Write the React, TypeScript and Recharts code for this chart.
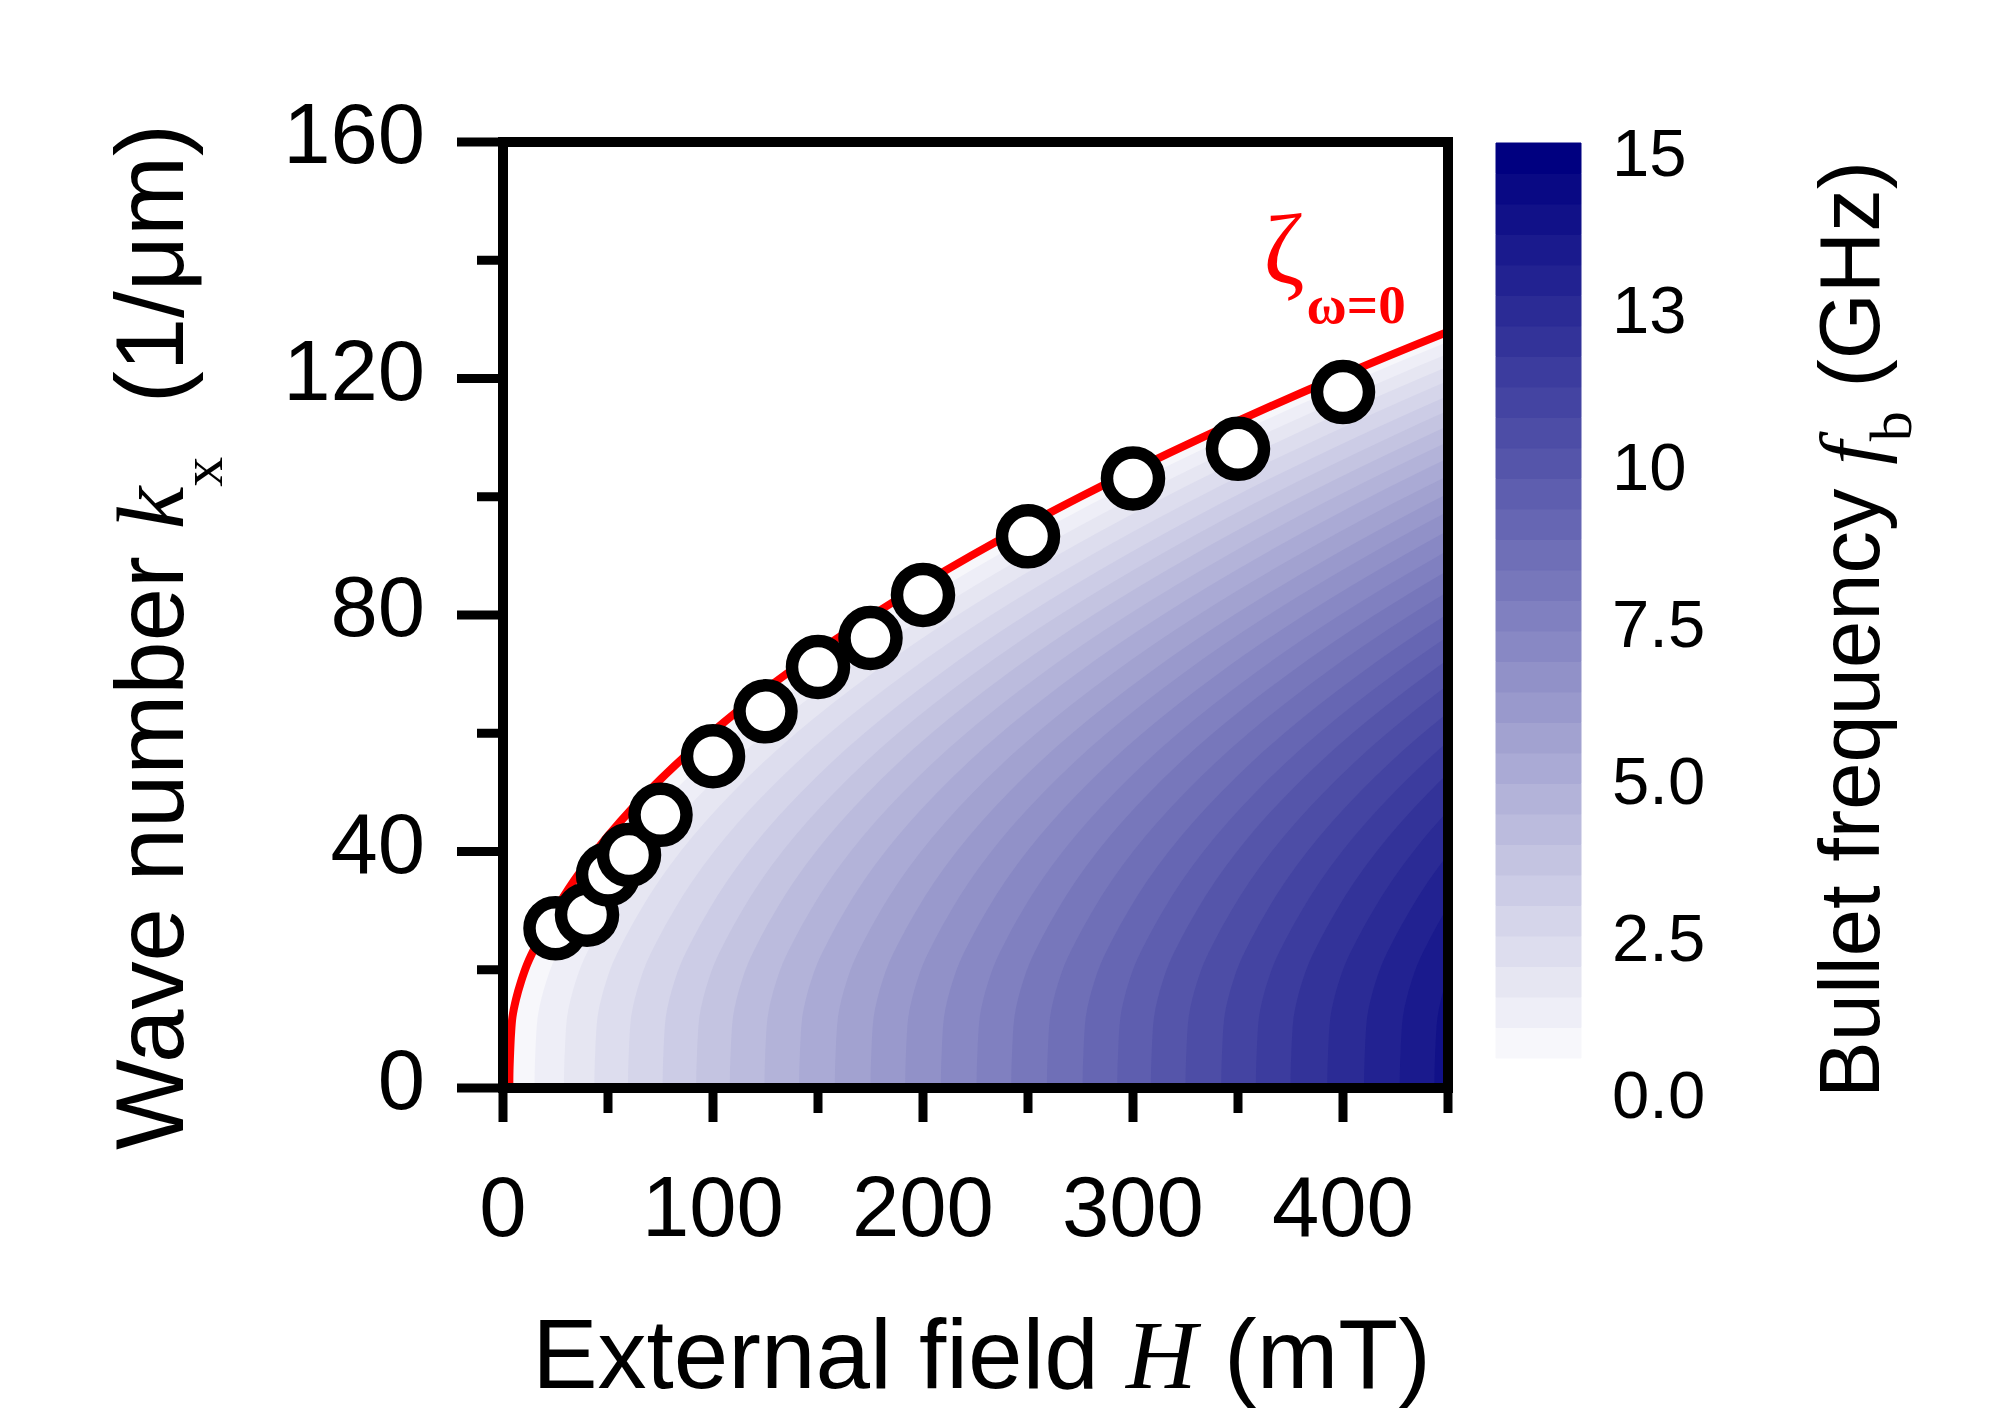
import {
  ComposedChart,
  BarChart,
  Area,
  Line,
  Bar,
  Scatter,
  XAxis,
  YAxis,
  ReferenceArea,
  ReferenceDot,
} from "recharts"

const W = 2008
const H = 1417
const SANS = '"Liberation Sans", Arial, sans-serif'
const SERIF = '"Liberation Serif", "Times New Roman", serif'

// measured points: field H (mT) and wave number k (1/um)
const pointH = [25, 40, 50, 60, 75, 100, 125, 150, 175, 200, 250, 300, 350, 400]
const pointK = [27.0, 29.3, 36.1, 39.4, 46.2, 56.1, 63.7, 71.2, 76.1, 83.4, 93.3, 103.1, 108.1, 117.7]

// zeta(omega=0) curve, read as field H at a given k
const zetaK = [0, 3, 6, 9, 12, 15, 18, 21, 25, 30, 35, 40, 50, 60, 70, 80, 90, 100, 110, 120, 130, 145, 160]
const zetaH = [3.0, 3.1, 3.4, 3.8, 4.5, 6.2, 8.6, 11.6, 17.0, 24.8, 33.7, 44.0, 68.8, 99.0, 134.8, 176.0, 222.8, 275.0, 332.8, 396.0, 464.8, 578.0, 704.0]

// contour boundaries every 0.5 GHz: distance in H from the zeta curve (read along k = 0)
const bandShift = [
  12, 26, 40.5, 56.5, 73, 89, 105, 121.5, 138, 155, 172, 188.5, 205.5, 222.5,
  239, 256, 273, 289.5, 305.5, 322, 339, 355.5, 372, 389.5, 407, 424, 440.5,
]

// colour bar levels (GHz)
const cbLevels = [
  0, 0.5, 1, 1.5, 2, 2.5, 3, 3.5, 4, 4.5, 5, 5.5, 6, 6.5, 7, 7.5, 8, 8.5, 9, 9.5,
  10, 10.5, 11, 11.5, 12, 12.5, 13, 13.5, 14, 14.5,
]
const cbMax = 15
const cbTicks = [0, 2.5, 5, 7.5, 10, 12.5, 15]

const xTicks = [0, 50, 100, 150, 200, 250, 300, 350, 400, 450]
const yTicks = [0, 20, 40, 60, 80, 100, 120, 140, 160]

const bandColor = (i: number) => {
  const t = (i + 1) / cbLevels.length
  const r = Math.round(255 - 255 * t)
  const b = Math.round(255 - 127 * t)
  return `rgb(${r},${r},${b})`
}

const points = pointH.map((h, i) => ({ H: h, k: pointK[i] }))

const contourRows = zetaK.map((k, i) => {
  const row: Record<string, number> = { k, zeta: zetaH[i], full: 1000 }
  bandShift.forEach((s, j) => {
    row[`b${j + 1}`] = zetaH[i] + s
  })
  return row
})

const cbRow: Record<string, number | string> = { name: "f" }
cbLevels.forEach((lv, i) => {
  const next = i + 1 < cbLevels.length ? cbLevels[i + 1] : cbMax
  cbRow[`s${i}`] = next - lv
})

const XTick = (props: any) => {
  const { x, y, payload } = props
  const v = payload.value
  const major = v % 100 === 0
  return (
    <g>
      <line x1={x} y1={y} x2={x} y2={y + (major ? 34 : 25)} stroke="#000" strokeWidth={9} />
      {major && (
        <text x={x} y={y + 148} textAnchor="middle" fontSize={85} fontFamily={SANS} fill="#000">
          {v}
        </text>
      )}
    </g>
  )
}

const YTick = (props: any) => {
  const { x, y, payload } = props
  const v = payload.value
  const major = v % 40 === 0
  return (
    <g>
      <line x1={x} y1={y} x2={x - (major ? 46 : 26)} y2={y} stroke="#000" strokeWidth={9} />
      {major && (
        <text x={x - 78} y={y + 21} textAnchor="end" fontSize={85} fontFamily={SANS} fill="#000">
          {v}
        </text>
      )}
    </g>
  )
}

const CbTick = (props: any) => {
  const { x, y, payload } = props
  const v = payload.value
  const label = v >= 10 ? String(Math.round(v)) : v.toFixed(1)
  const shift = 9 + 1.8 * (cbMax - v)
  return (
    <text x={x + 31} y={y + shift + 24} textAnchor="start" fontSize={67} fontFamily={SANS} fill="#000">
      {label}
    </text>
  )
}

const XTitle = (props: any) => {
  const { x, y, width } = props.viewBox
  return (
    <text x={x + width / 2 + 6} y={y + 300} textAnchor="middle" fontSize={98} fontFamily={SANS} fill="#000">
      External field <tspan fontFamily={SERIF} fontStyle="italic">H</tspan> (mT)
    </text>
  )
}

const YTitle = (props: any) => {
  const { x, y, height } = props.viewBox
  const bx = x - 220
  const cy = y + height / 2 + 22
  return (
    <text
      transform={`translate(${bx},${cy}) rotate(-90)`}
      textAnchor="middle"
      fontSize={96}
      fontFamily={SANS}
      fill="#000"
      style={{ whiteSpace: "pre" }}
    >
      {"Wave number "}
      <tspan fontFamily={SERIF} fontStyle="italic">k</tspan>
      <tspan fontFamily={SERIF} fontSize={60} dy={39}>x</tspan>
      <tspan dy={-39}>{"  (1/μm)"}</tspan>
    </text>
  )
}

const CbTitle = (props: any) => {
  const { x, y, height } = props.viewBox
  const bx = x + 298
  const cy = y + height / 2 + 29
  return (
    <text
      transform={`translate(${bx},${cy}) rotate(-90)`}
      textAnchor="middle"
      fontSize={85}
      fontFamily={SANS}
      fill="#000"
      style={{ whiteSpace: "pre" }}
    >
      {"Bullet frequency "}
      <tspan fontFamily={SERIF} fontStyle="italic">f</tspan>
      <tspan fontFamily={SERIF} fontSize={60} dy={32}>b</tspan>
      <tspan dy={-32}>{" (GHz)"}</tspan>
    </text>
  )
}

const Marker = (props: any) => (
  <circle cx={props.cx} cy={props.cy} r={26} fill="#fff" stroke="#000" strokeWidth={12.5} />
)

const ZetaLabel = (props: any) => (
  <text x={props.cx} y={props.cy} fill="#ff0000" fontFamily={SERIF}>
    <tspan fontSize={100}>ζ</tspan>
    <tspan fontSize={55} fontWeight="bold" dx={2} dy={40}>ω=0</tspan>
  </text>
)

const layer: React.CSSProperties = { position: "absolute", left: 0, top: 0 }

export default function App() {
  const bandKeys = bandShift.map((_, j) => j + 1).reverse()
  return (
    <div style={{ position: "absolute", left: 0, top: 0, width: W, height: H, background: "#fff" }}>
      <div style={layer}>
        <ComposedChart
          layout="vertical"
          width={W}
          height={H}
          data={contourRows}
          margin={{ top: 142, right: 560, bottom: 329, left: 503 }}
        >
          <XAxis type="number" domain={[0, 450]} allowDataOverflow hide />
          <YAxis type="number" dataKey="k" domain={[0, 160]} allowDataOverflow reversed hide />
          <Area
            dataKey="full"
            type="monotone"
            fill={bandColor(bandShift.length)}
            fillOpacity={1}
            stroke="none"
            isAnimationActive={false}
          />
          {bandKeys.map((n) => (
            <Area
              key={n}
              dataKey={`b${n}`}
              type="monotone"
              fill={bandColor(n - 1)}
              fillOpacity={1}
              stroke="none"
              isAnimationActive={false}
            />
          ))}
          <Area dataKey="zeta" type="monotone" fill="#fff" fillOpacity={1} stroke="none" isAnimationActive={false} />
          <Line dataKey="zeta" type="monotone" stroke="#ff0000" strokeWidth={8} dot={false} isAnimationActive={false} />
        </ComposedChart>
      </div>

      <div style={layer}>
        <ComposedChart width={W} height={H} data={points} margin={{ top: 142, right: 560, bottom: 209, left: 403 }}>
          <XAxis
            type="number"
            dataKey="H"
            domain={[0, 450]}
            ticks={xTicks}
            interval={0}
            height={120}
            axisLine={false}
            tickLine={false}
            tickSize={0}
            tickMargin={0}
            tick={<XTick />}
            label={<XTitle />}
          />
          <YAxis
            type="number"
            dataKey="k"
            domain={[0, 160]}
            ticks={yTicks}
            interval={0}
            width={100}
            axisLine={false}
            tickLine={false}
            tickSize={0}
            tickMargin={0}
            tick={<YTick />}
            label={<YTitle />}
          />
          <ReferenceArea x1={0} x2={450} y1={0} y2={160} fill="none" fillOpacity={0} stroke="#000" strokeWidth={10} />
          <Scatter data={points} shape={<Marker />} isAnimationActive={false} />
          <ReferenceDot x={362} y={136.1} r={0} shape={<ZetaLabel />} />
        </ComposedChart>
      </div>

      <div style={layer}>
        <BarChart
          width={W}
          height={H}
          data={[cbRow]}
          barCategoryGap={0}
          barGap={0}
          margin={{ top: 143, right: 127, bottom: 359, left: 1496 }}
        >
          <XAxis dataKey="name" hide />
          <YAxis
            orientation="right"
            type="number"
            domain={[0, cbMax]}
            ticks={cbTicks}
            interval={0}
            width={300}
            axisLine={false}
            tickLine={false}
            tickSize={0}
            tickMargin={0}
            tick={<CbTick />}
            label={<CbTitle />}
          />
          {cbLevels.map((_, i) => (
            <Bar
              key={i}
              dataKey={`s${i}`}
              stackId="cb"
              fill={bandColor(i)}
              stroke={bandColor(i)}
              strokeWidth={1}
              isAnimationActive={false}
            />
          ))}
        </BarChart>
      </div>
    </div>
  )
}
